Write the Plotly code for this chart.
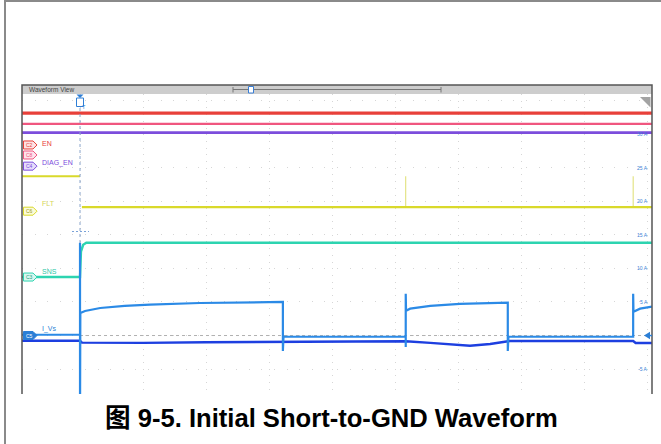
import plotly.graph_objects as go

W, H = 661, 444

# ---------------- data (time in ms, 10 ms/div; amplitude in display units, I_Vs scale 5 A/div)
T_RANGE = [-9.21, 90.79]
Y_RANGE = [-8.70, 35.94]

EN_T = [-9.21, 90.79]
EN_V = [33.1, 33.1]
C8_T = [-9.21, 90.79]
C8_V = [31.5, 31.5]
DIAG_T = [-9.21, 90.79]
DIAG_V = [30.2, 30.2]

FLT_T = [-9.21, 0.0, None, 0.3, 90.79]
FLT_V = [23.7, 23.7, None, 19.1, 19.1]
FLT_SPIKE_T = [51.7, 51.7, None, 87.8, 87.8]
FLT_SPIKE_V = [19.1, 23.7, None, 19.1, 23.7]

SNS_T = [-9.21, 0.0, 0.15, 0.5, 1.0, 90.79]
SNS_V = [8.7, 8.7, 12.5, 13.5, 13.8, 13.8]

IVS_T = [-9.21, 0.0, 0.0, 0.0, 0.05, 0.8, 3.2, 7.1, 11.1, 19.0, 27.0, 32.2, 32.2, 32.3,
         51.7, 51.7, 51.7, 51.75, 52.4, 55.6, 60.3, 65.1, 67.9, 67.9, 68.0,
         87.8, 87.8, 87.85, 88.9, 90.79]
IVS_V = [0.12, 0.12, 13.8, -12.0, 3.35, 3.65, 4.1, 4.4, 4.6, 4.84, 4.94, 5.0, -2.3, -0.18,
         -0.18, -1.7, 6.2, 3.7, 4.0, 4.4, 4.7, 4.84, 4.88, -2.3, -0.18,
         -0.18, 6.2, 3.54, 4.0, 4.3]

DK_T = [-9.21, 0.0, 0.3, 5.0, 10.0, 20.0, 32.2, 32.5, 51.7, 55.6, 60.3, 61.9, 65.1, 67.9,
        68.2, 87.8, 88.2, 90.79]
DK_V = [-0.77, -0.77, -1.05, -1.12, -1.1, -1.0, -0.97, -0.92, -0.85, -1.1, -1.45, -1.52,
        -1.26, -0.89, -0.82, -0.82, -1.12, -1.12]

ZERO_T = [0.0, 90.79]
ZERO_V = [0.0, 0.0]

AMP_TICKS = [30, 25, 20, 15, 10, 5, -5]
AMP_LABELS = ["30 A", "25 A", "20 A", "15 A", "10 A", "5 A", "-5 A"]

TAG_NAMES = ["C2", "C8", "C4", "C6", "C3", "C5"]
TAG_LEVELS = [28.35, 26.86, 25.2, 18.5, 8.7, 0.0]
TAG_LINE = ["#e8403a", "#f0567f", "#7c4ddc", "#d9d92b", "#2dd4b0", "#2b7fd6"]
TAG_FILL = ["#fde3e3", "#fde3ec", "#e6dcfa", "#fbfbd8", "#d8f7ef", "#2b7fd6"]
TAG_TEXT = ["#e8403a", "#f0567f", "#7c4ddc", "#9a9a20", "#1c9d84", "#ffffff"]

CH_NAMES = ["EN", "DIAG_EN", "FLT", "SNS", "I_Vs"]
CH_LEVELS = [28.6, 25.6, 19.6, 9.5, 0.9]
CH_COLORS = ["#e8403a", "#7c4ddc", "#d6d65a", "#2dc9a8", "#2b7fd6"]

CAPTION = "图 9-5. Initial Short-to-GND Waveform"

# ---------------- geometry helpers (pixel -> paper)
def px(x):
    return x / W

def py(y):
    return 1 - y / H

X0, X1, Y0, Y1 = 22, 652, 94, 394

fig = go.Figure()

def line(t, v, color, width, dash=None, opacity=1.0):
    fig.add_trace(go.Scatter(x=t, y=v, mode="lines", hoverinfo="skip", opacity=opacity,
                             line=dict(color=color, width=width, dash=dash),
                             showlegend=False, connectgaps=False))

line(ZERO_T, ZERO_V, "#b0b0b0", 1, dash="dot")
line(EN_T, EN_V, "#e8403a", 3.4)
line(C8_T, C8_V, "#f0567f", 2.2)
line(DIAG_T, DIAG_V, "#7c4ddc", 2.6)
line(FLT_SPIKE_T, FLT_SPIKE_V, "#dede70", 1)
line(FLT_T, FLT_V, "#d9d92b", 2.2)
line(SNS_T, SNS_V, "#2dd4b0", 2.4)
line(DK_T, DK_V, "#1d3fe0", 2.4)
line(IVS_T, IVS_V, "#2b8ae6", 2.2)

shapes = []
annotations = []

# outer frame
shapes.append(dict(type="path", xref="paper", yref="paper",
                   path=f"M{px(5)},{py(444)} L{px(5)},{py(1)} L{px(661)},{py(1)}",
                   line=dict(color="#8a8a8a", width=2)))
# header bar
shapes.append(dict(type="rect", xref="paper", yref="paper", x0=px(X0), x1=px(X1),
                   y0=py(94), y1=py(85), fillcolor="#cdcdcd", line=dict(width=0), layer="above"))
# panel border
shapes.append(dict(type="path", xref="paper", yref="paper",
                   path=f"M{px(X0)},{py(Y1)} L{px(X0)},{py(85)} L{px(X1)},{py(85)} L{px(X1)},{py(Y1)}",
                   line=dict(color="#555555", width=1.5), layer="above"))
annotations.append(dict(xref="paper", yref="paper", x=px(27), y=py(89.5), text="Waveform View",
                        showarrow=False, xanchor="left", yanchor="middle",
                        font=dict(size=6.5, color="#444444", family="Liberation Sans, Arial")))
# scrollbar
shapes.append(dict(type="line", xref="paper", yref="paper", x0=px(233), x1=px(441),
                   y0=py(89.5), y1=py(89.5), line=dict(color="#777777", width=1), layer="above"))
for xb in (233, 441):
    shapes.append(dict(type="line", xref="paper", yref="paper", x0=px(xb), x1=px(xb),
                       y0=py(87), y1=py(92.5), line=dict(color="#777777", width=1), layer="above"))
shapes.append(dict(type="rect", xref="paper", yref="paper", x0=px(248.5), x1=px(253.5),
                   y0=py(93), y1=py(86.5), fillcolor="#ffffff", line=dict(color="#3a7fd5", width=1),
                   layer="above"))

# trigger line, marker and crosshair
shapes.append(dict(type="line", xref="x", yref="paper", x0=0, x1=0, y0=py(243), y1=py(106),
                   line=dict(color="#8aa5cc", width=1, dash="dot")))
shapes.append(dict(type="path", xref="paper", yref="paper",
                   path=f"M{px(76.5)},{py(94.5)} L{px(83.5)},{py(94.5)} L{px(80)},{py(98)} Z",
                   fillcolor="#2f7fd6", line=dict(width=0), layer="above"))
shapes.append(dict(type="rect", xref="paper", yref="paper", x0=px(76.5), x1=px(83.5),
                   y0=py(106.5), y1=py(98), fillcolor="#ffffff", line=dict(color="#2f7fd6", width=1),
                   layer="above"))
annotations.append(dict(xref="paper", yref="paper", x=px(80), y=py(102.3), text="T", showarrow=False,
                        font=dict(size=5.5, color="#2f7fd6", family="Liberation Sans, Arial")))
shapes.append(dict(type="line", xref="paper", yref="paper", x0=px(72), x1=px(89), y0=py(231.5),
                   y1=py(231.5), line=dict(color="#7aa2d8", width=1, dash="2px,2px")))

# top-right corner icon
shapes.append(dict(type="path", xref="paper", yref="paper",
                   path=f"M{px(640)},{py(97)} L{px(650.5)},{py(97)} L{px(650.5)},{py(107.5)} Z",
                   fillcolor="#a3a3a3", line=dict(width=0), layer="above"))

# zero arrow at right
shapes.append(dict(type="path", xref="paper", yref="y",
                   path=f"M{px(644)},0 L{px(650)},0.55 L{px(650)},-0.55 Z",
                   fillcolor="#2b7fd6", line=dict(width=0), layer="above"))
shapes.append(dict(type="line", xref="paper", yref="y", x0=px(648), x1=px(652), y0=0, y1=0,
                   line=dict(color="#2b7fd6", width=1.5), layer="above"))

# right-side amplitude labels
for v, lab in zip(AMP_TICKS, AMP_LABELS):
    annotations.append(dict(xref="paper", yref="y", x=px(650), y=v, text=lab, showarrow=False,
                            xanchor="right", yanchor="middle",
                            font=dict(size=5, color="#3b82d6", family="Liberation Sans, Arial")))

# channel tags
for name, lvl, lc, fc, tc in zip(TAG_NAMES, TAG_LEVELS, TAG_LINE, TAG_FILL, TAG_TEXT):
    yc = 335.5 - lvl / 0.1488
    path = (f"M{px(23.5)},{py(yc-4)} L{px(33)},{py(yc-4)} L{px(37)},{py(yc)} "
            f"L{px(33)},{py(yc+4)} L{px(23.5)},{py(yc+4)} Z")
    shapes.append(dict(type="path", xref="paper", yref="paper", path=path, fillcolor=fc,
                       line=dict(color=lc, width=1), layer="above"))
    annotations.append(dict(xref="paper", yref="paper", x=px(29), y=py(yc), text=name,
                            showarrow=False, xanchor="center", yanchor="middle",
                            font=dict(size=5, color=tc, family="Liberation Sans, Arial")))

for name, lvl, col in zip(CH_NAMES, CH_LEVELS, CH_COLORS):
    annotations.append(dict(xref="paper", yref="y", x=px(39.5), y=lvl, text=name, showarrow=False,
                            xanchor="left", yanchor="middle",
                            font=dict(size=7, color=col, family="Liberation Sans, Arial")))

# caption
annotations.append(dict(xref="paper", yref="paper", x=px(331), y=py(418), text="<b>" + CAPTION + "</b>",
                        showarrow=False, xanchor="center", yanchor="middle",
                        font=dict(size=25.6, color="#000000",
                                  family="Liberation Sans, Arial, Noto Sans CJK SC")))

fig.update_layout(
    width=W, height=H, margin=dict(l=0, r=0, t=0, b=0),
    paper_bgcolor="#ffffff", plot_bgcolor="#ffffff",
    shapes=shapes, annotations=annotations, showlegend=False,
    xaxis=dict(domain=[px(X0), px(X1)], range=T_RANGE, tick0=0, dtick=10, showgrid=True,
               gridcolor="#d6d6d6", gridwidth=1, griddash="1px,5.7px", zeroline=False,
               showticklabels=False, ticks="", showline=False, fixedrange=True),
    yaxis=dict(domain=[py(Y1), py(Y0)], range=Y_RANGE, tick0=0, dtick=5, showgrid=True,
               gridcolor="#d6d6d6", gridwidth=1, griddash="1px,11.6px", zeroline=False,
               showticklabels=False, ticks="", showline=False, fixedrange=True),
)

fig.write_html("out.html", config={"displayModeBar": False},
               post_script="document.body.style.margin='0px';document.body.style.padding='0px';")
